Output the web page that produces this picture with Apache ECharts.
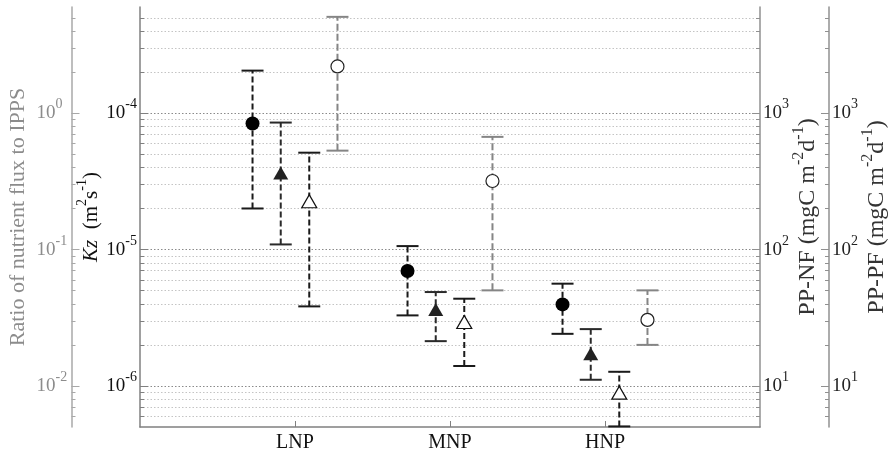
<!DOCTYPE html>
<html><head><meta charset="utf-8">
<script src="https://cdn.jsdelivr.net/npm/echarts@6/dist/echarts.min.js"></script>
<style>html,body{margin:0;padding:0;background:#fff}#c{width:888px;height:455px}</style>
</head><body><div id="c"></div>
<script>
// ---- data ----
const groups = ['LNP', 'MNP', 'HNP'];
const groupPos = [1, 2, 3];
// Kz (m2 s-1) — filled circles
const kzMid  = [8.4e-5, 6.96e-6, 3.96e-6];
const kzHigh = [2.05e-4, 1.06e-5, 5.62e-6];
const kzLow  = [2.0e-5, 3.29e-6, 2.41e-6];
// PP-NF (mgC m-2 d-1) — filled triangles
const ppnfMid  = [364, 36.4, 17.2];
const ppnfHigh = [853, 48.8, 26.1];
const ppnfLow  = [109, 21.3, 11.1];
// PP-PF (mgC m-2 d-1) — open triangles
const pppfMid  = [226, 29.4, 8.93];
const pppfHigh = [513, 43.6, 12.7];
const pppfLow  = [38.3, 14.0, 5.05];
// Ratio of nutrient flux to IPPS — open circles
const ratioMid  = [2.2, 0.318, 0.0305];
const ratioHigh = [5.08, 0.67, 0.0502];
const ratioLow  = [0.531, 0.0502, 0.020];

// ---- tick values ----
const kzMajor = [1e-6, 1e-5, 1e-4];
const kzTicks = [6e-7,7e-7,8e-7,9e-7,1e-6,2e-6,3e-6,4e-6,5e-6,6e-6,7e-6,8e-6,9e-6,
  1e-5,2e-5,3e-5,4e-5,5e-5,6e-5,7e-5,8e-5,9e-5,1e-4,2e-4,3e-4,4e-4,5e-4];
const ratioMajor = [1e-2, 1e-1, 1];
const ratioTicks = [6e-3,7e-3,8e-3,9e-3,1e-2,2e-2,3e-2,4e-2,5e-2,6e-2,7e-2,8e-2,9e-2,
  0.1,0.2,0.3,0.4,0.5,0.6,0.7,0.8,0.9,1,2,3,4,5];
const ppMajor = [10, 100, 1000];
const ppTicks = [6,7,8,9,10,20,30,40,50,60,70,80,90,100,200,300,400,500,600,700,800,900,
  1000,2000,3000,4000,5000];

// ---- style ----
const FONT = '"Liberation Serif", "Times New Roman", serif';
const offsets = { kz: -0.274, ppnf: -0.092, pppf: 0.092, ratio: 0.274 };

function powLabel(v) {
  const e = Math.round(Math.log10(v));
  return '{b|10}{s|' + e + '}';
}
function labelRich(color) {
  return {
    b: { fontSize: 19, fontFamily: FONT, color: color },
    s: { fontSize: 14, fontFamily: FONT, color: color, padding: [0, 0, 17, 0] }
  };
}
function nameRich(color, fs, sfs) {
  return {
    n: { fontSize: fs, fontFamily: FONT, color: color },
    i: { fontSize: fs, fontFamily: FONT, color: color, fontStyle: 'italic' },
    s: { fontSize: sfs, fontFamily: FONT, color: color, padding: [0, 0, 18, 0] }
  };
}

function mainAxis(o) {
  return {
    type: 'log', logBase: 10, min: o.min, max: o.max,
    position: o.position, offset: o.offset,
    name: o.name, nameLocation: 'middle', nameRotate: 90, nameGap: o.nameGap,
    nameMoveOverlap: false,
    nameTextStyle: { rich: nameRich(o.nameColor, o.nameSize, o.supSize), color: o.nameColor },
    axisLine: { show: true, lineStyle: { color: o.lineColor, width: 1.5 } },
    axisTick: { show: true, inside: true, length: 4, customValues: o.ticks,
      lineStyle: { color: o.lineColor, width: 1 } },
    minorTick: { show: false },
    axisLabel: { show: true, customValues: o.major, formatter: powLabel,
      rich: labelRich(o.labelColor), margin: o.margin, align: o.align },
    splitLine: o.split ? { show: true, lineStyle: { color: o.splitColors, type: [1.5, 2], width: 1 } } : { show: false }
  };
}
function twinAxis(o) {
  return {
    type: 'log', logBase: 10, min: o.min, max: o.max,
    position: o.position, offset: o.offset,
    axisLine: { show: false },
    axisTick: { show: true, inside: true, length: 8, customValues: o.major,
      lineStyle: { color: o.lineColor, width: 1 } },
    axisLabel: { show: false },
    splitLine: { show: false }
  };
}

const kzSplitColors = kzTicks.map(v => kzMajor.indexOf(v) >= 0 ? '#8a8a8a' : '#c4c4c4');

const axDefs = [
  { min: 5e-7, max: 6e-4, position: 'left', offset: 0, ticks: kzTicks, major: kzMajor,
    name: '{i|Kz}{n|  (m}{s|2}{n|s}{s|-1}{n|)}', nameGap: 33, nameColor: '#111', nameSize: 21, supSize: 14,
    lineColor: '#808080', labelColor: '#111', margin: 3, align: 'right', split: true, splitColors: kzSplitColors },
  { min: 5e-3, max: 6, position: 'left', offset: 68.5, ticks: ratioTicks, major: ratioMajor,
    name: '{n|Ratio of nutrient flux to IPPS}', nameGap: 42, nameColor: '#8c8c8c', nameSize: 22, supSize: 14,
    lineColor: '#a8a8a8', labelColor: '#8c8c8c', margin: 35, align: 'left' },
  { min: 5, max: 6000, position: 'right', offset: 0, ticks: ppTicks, major: ppMajor,
    name: '{n|PP-NF (mgC m}{s|-2}{n|d}{s|-1}{n|)}', nameGap: 31, nameColor: '#333', nameSize: 24, supSize: 16,
    lineColor: '#909090', labelColor: '#222', margin: 3, align: 'left' },
  { min: 5, max: 6000, position: 'right', offset: 69, ticks: ppTicks, major: ppMajor,
    name: '{n|PP-PF (mgC m}{s|-2}{n|d}{s|-1}{n|)}', nameGap: 31, nameColor: '#333', nameSize: 24, supSize: 16,
    lineColor: '#909090', labelColor: '#222', margin: 3, align: 'left' }
];
const yAxes = axDefs.map(mainAxis).concat(axDefs.map(twinAxis));

function errRender(color, width, dash) {
  return function (params, api) {
    const x = api.value(0);
    const lo = api.coord([x, api.value(1)]);
    const hi = api.coord([x, api.value(2)]);
    const half = 11;
    return { type: 'group', children: [
      { type: 'line', shape: { x1: lo[0], y1: lo[1], x2: hi[0], y2: hi[1] },
        style: { stroke: color, lineWidth: width, lineDash: dash } },
      { type: 'line', shape: { x1: hi[0] - half, y1: hi[1], x2: hi[0] + half, y2: hi[1] },
        style: { stroke: color, lineWidth: width } },
      { type: 'line', shape: { x1: lo[0] - half, y1: lo[1], x2: lo[0] + half, y2: lo[1] },
        style: { stroke: color, lineWidth: width } }
    ]};
  };
}

const sets = [
  { key: 'kz', y: 0, mid: kzMid, lo: kzLow, hi: kzHigh, ecolor: '#1a1a1a', ew: 2, dash: [6, 3],
    symbol: 'circle', size: 14, fill: '#000', border: '#000', bw: 0 },
  { key: 'ppnf', y: 2, mid: ppnfMid, lo: ppnfLow, hi: ppnfHigh, ecolor: '#2a2a2a', ew: 2, dash: [6, 3],
    symbol: 'triangle', size: [15, 13], fill: '#222', border: '#222', bw: 0 },
  { key: 'pppf', y: 3, mid: pppfMid, lo: pppfLow, hi: pppfHigh, ecolor: '#1a1a1a', ew: 2, dash: [6, 3],
    symbol: 'triangle', size: [15, 13], fill: '#fff', border: '#111', bw: 1.2 },
  { key: 'ratio', y: 1, mid: ratioMid, lo: ratioLow, hi: ratioHigh, ecolor: '#858585', ew: 2, dash: [7, 3],
    symbol: 'circle', size: 13, fill: '#fff', border: '#222', bw: 1.2 }
];

const series = [];
sets.forEach(s => {
  series.push({
    type: 'custom', xAxisIndex: 0, yAxisIndex: s.y, z: 2,
    renderItem: errRender(s.ecolor, s.ew, s.dash),
    encode: { x: 0, y: [1, 2] },
    data: groupPos.map((p, i) => [p + offsets[s.key], s.lo[i], s.hi[i]])
  });
});
sets.forEach(s => {
  series.push({
    type: 'scatter', xAxisIndex: 0, yAxisIndex: s.y, z: 5,
    symbol: s.symbol, symbolSize: s.size,
    itemStyle: { color: s.fill, borderColor: s.border, borderWidth: s.bw, opacity: 1 },
    data: groupPos.map((p, i) => [p + offsets[s.key], s.mid[i]])
  });
});

const chart = echarts.init(document.getElementById('c'), null, { renderer: 'canvas' });
chart.setOption({
  animation: false,
  backgroundColor: '#fff',
  grid: { left: 140, right: 128, top: 7, bottom: 28, containLabel: false, outerBoundsMode: 'none' },
  xAxis: {
    type: 'value', min: 0, max: 4,
    axisLine: { show: true, lineStyle: { color: '#808080', width: 1.5 } },
    axisTick: { show: true, inside: true, length: 6, customValues: groupPos, lineStyle: { color: '#808080' } },
    axisLabel: { customValues: groupPos, formatter: v => groups[Math.round(v) - 1],
      fontFamily: FONT, fontSize: 20, color: '#111', margin: 6 },
    splitLine: { show: false }
  },
  yAxis: yAxes,
  series: series
});
</script>
</body></html>
